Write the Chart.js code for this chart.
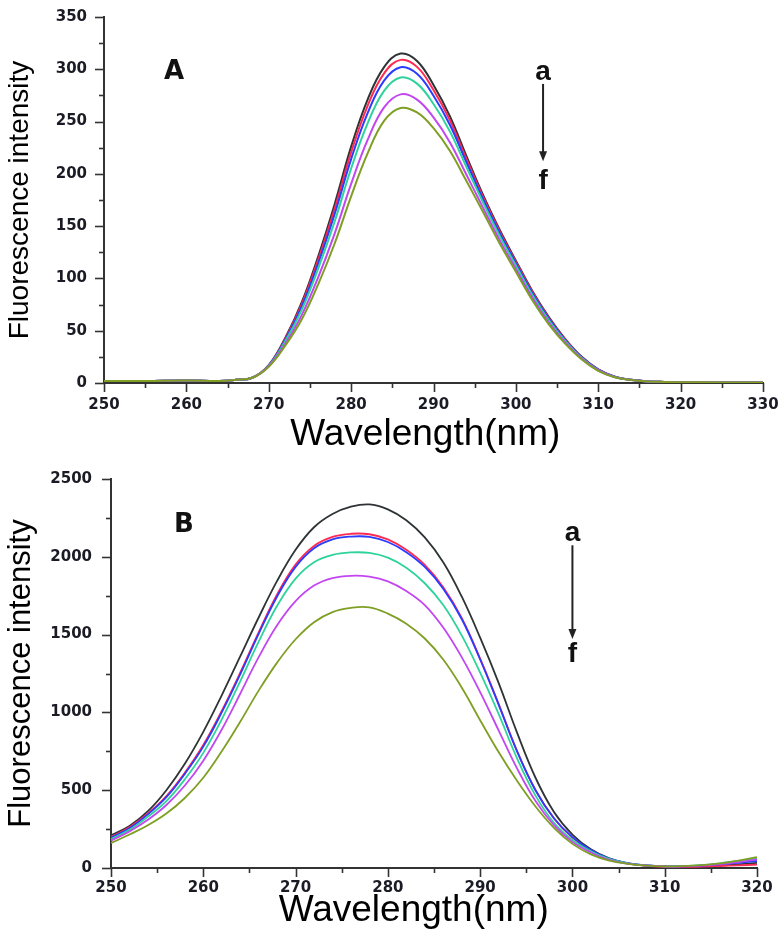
<!DOCTYPE html>
<html><head><meta charset="utf-8">
<script src="https://cdn.jsdelivr.net/npm/chart.js@4.4.0/dist/chart.umd.min.js"></script>
<style>
html,body{margin:0;padding:0;background:#fff;width:783px;height:937px;overflow:hidden;}
#wrapA{position:absolute;left:0;top:0;width:783px;height:470px;}
#wrapB{position:absolute;left:0;top:460px;width:783px;height:477px;}
</style></head><body>
<div id="wrapA"><canvas id="cA"></canvas></div>
<div id="wrapB"><canvas id="cB"></canvas></div>
<script>
// ---------- Panel A data ----------
const wavelengthA = [250,255,260,264,266,268,270,272,274,276,278,280,282,284,286,288,290,292,294,296,298,300,302,304,306,308,310,312,314,316,318,320,325,330];
const A_a = [2,2,2.5,2,3,5,17,43,77,121,171,226,271,302,315,308,285,255,217,180,147,117,88,63,42,25,13,6,3,1.5,1,0.8,0.5,0.5];
const A_b = [2,2,2.5,2,3,5,16.8,42.2,75.1,117.9,166.7,220.5,265.1,296.1,309,302.3,280.2,251.2,214.2,178.1,145.5,115.8,87,62.2,41.5,24.7,12.9,6,3,1.5,1,0.8,0.5,0.5];
const A_c = [2,2,2.5,2,3,5,16.7,41.2,73,114.3,161.6,214.1,258.1,289.2,302,295.7,274.7,246.7,211,176,143.7,114.4,85.8,61.3,40.8,24.4,12.7,5.9,3,1.5,1,0.8,0.5,0.5];
const A_d = [2,2,2.5,2,3,5,16.4,39.8,69.9,109.3,154.4,205.1,248.3,279.4,292.1,286.3,266.8,240.4,206.5,172.9,141.2,112.4,84.1,60,40,23.9,12.4,5.8,2.9,1.5,1,0.8,0.5,0.5];
const A_e = [2,2,2.5,2,3,5,16,37.5,64.9,101,142.8,190.4,232.4,263.5,276,271,254,230.1,199.1,167.9,137.1,109.1,81.4,57.8,38.5,23.1,12,5.6,2.9,1.5,1,0.8,0.5,0.5];
const A_f = [2,2,2.5,2,3,5,15.6,35.7,60.8,94.4,133.4,178.5,219.5,250.7,263,258.7,243.7,221.9,193.1,163.8,133.8,106.5,79.2,56.1,37.4,22.5,11.7,5.5,2.9,1.5,1,0.8,0.5,0.5];
const xTicksA = [250,260,270,280,290,300,310,320,330];
const yTicksA = [0,50,100,150,200,250,300,350];

// ---------- Panel B data ----------
const wavelengthB = [250,252,254,256,258,260,262,264,266,268,270,272,274,276,278,280,282,284,286,288,290,292,294,296,298,300,302,304,306,308,310,312,314,316,318,320];
const B_a = [210,270,365,500,670,875,1110,1360,1610,1845,2045,2190,2275,2322,2337,2305,2235,2125,1965,1745,1480,1190,870,580,360,215,120,62,30,16,10,8,10,15,23,33];
const B_b = [200,262,350,462,612,790,1010,1255,1515,1758,1950,2070,2128,2148,2145,2112,2045,1948,1805,1608,1345,1055,752,500,318,195,112,56,28,14,8,7,9,13,17,22];
const B_c = [195,255,345,455,605,780,1000,1245,1505,1745,1935,2055,2112,2130,2128,2095,2030,1935,1795,1600,1340,1050,750,500,320,198,115,60,32,17,11,11,16,24,33,45];
const B_d = [185,245,330,430,570,740,955,1200,1455,1685,1860,1965,2012,2028,2025,1995,1930,1830,1690,1495,1255,990,705,465,290,180,108,58,30,17,11,12,18,30,45,62];
const B_e = [175,235,310,405,530,690,890,1120,1355,1560,1715,1815,1863,1878,1872,1842,1780,1690,1545,1355,1130,885,640,430,275,168,100,52,28,16,10,10,15,25,38,55];
const B_f = [160,215,275,350,450,580,750,940,1140,1320,1470,1580,1645,1672,1675,1635,1570,1475,1340,1160,950,745,560,395,258,155,88,48,27,15,10,12,18,30,48,70];
const xTicksB = [250,260,270,280,290,300,310,320];
const yTicksB = [0,500,1000,1500,2000,2500];

const seriesNames = ['a','b','c','d','e','f'];
const seriesColors = ['#2e3336','#ff2a52','#2b3cff','#2ed39b','#c247f0','#7f9f24'];

function makeDatasets(xs, ys, width){
  return ys.map((arr,i)=>({
    label: seriesNames[i],
    data: arr.map((v,j)=>({x:xs[j], y:v})),
    borderColor: seriesColors[i],
    backgroundColor: seriesColors[i],
    borderWidth: width,
    pointRadius: 0,
    tension: 0.4,
    fill: false,
    order: 5 - i
  }));
}

const tickFont = {family:'DejaVu Sans', weight:'bold', size:15};
const tickColor = '#1b1b26';
const axisColor = '#333333';

const annotPlugin = {
  id: 'annot',
  afterDraw(chart){
    const o = chart.options.plugins.annot;
    const {ctx, scales:{x, y}} = chart;
    ctx.save();
    ctx.strokeStyle = axisColor;
    ctx.lineWidth = 1.6;
    const drawX = (v,len)=>{ const px = Math.round(x.getPixelForValue(v))+0.5; ctx.beginPath(); ctx.moveTo(px, y.bottom); ctx.lineTo(px, y.bottom+len); ctx.stroke(); };
    const drawY = (v,len)=>{ const py = Math.round(y.getPixelForValue(v))+0.5; ctx.beginPath(); ctx.moveTo(x.left, py); ctx.lineTo(x.left-len, py); ctx.stroke(); };
    o.xTicks.forEach((v,i)=>{ drawX(v,9); if(i<o.xTicks.length-1) drawX((v+o.xTicks[i+1])/2,5); });
    o.yTicks.forEach((v,i)=>{ drawY(v,9); if(i<o.yTicks.length-1) drawY((v+o.yTicks[i+1])/2,5); });
    ctx.fillStyle = '#111';
    ctx.textAlign = 'center';
    ctx.textBaseline = 'middle';
    o.texts.forEach(t=>{
      ctx.font = t.font;
      ctx.fillText(t.text, x.getPixelForValue(t.x), y.getPixelForValue(t.y));
    });
    // x-axis title
    ctx.fillStyle = '#000';
    ctx.font = '37px "Liberation Sans"';
    ctx.fillText('Wavelength(nm)', x.getPixelForValue(o.xTitle.x), y.bottom + o.xTitle.dy);
    // arrow
    const ax = x.getPixelForValue(o.arrow.x);
    const y1 = y.getPixelForValue(o.arrow.y1);
    const y2 = y.getPixelForValue(o.arrow.y2);
    ctx.strokeStyle = '#222';
    ctx.lineWidth = 2;
    ctx.beginPath(); ctx.moveTo(ax, y1); ctx.lineTo(ax, y2-8); ctx.stroke();
    ctx.fillStyle = '#222';
    ctx.beginPath(); ctx.moveTo(ax, y2); ctx.lineTo(ax-4, y2-10); ctx.lineTo(ax+4, y2-10); ctx.closePath(); ctx.fill();
    ctx.restore();
  }
};

function makeChart(id, cfg){
  return new Chart(document.getElementById(id), {
    type: 'line',
    data: { datasets: makeDatasets(cfg.xs, cfg.ys, cfg.lineWidth) },
    options: {
      responsive: true,
      maintainAspectRatio: false,
      animation: false,
      events: [],
      layout: { padding: cfg.padding },
      plugins: {
        legend: {display:false},
        tooltip: {enabled:false},
        annot: cfg.annot
      },
      scales: {
        x: {
          type: 'linear', min: cfg.xTicks[0], max: cfg.xTicks[cfg.xTicks.length-1],
          afterBuildTicks: s => { s.ticks = cfg.xTicks.map(v=>({value:v})); },
          afterFit: s => { s.height = cfg.xAxisHeight; },
          ticks: { font: tickFont, color: tickColor, padding: cfg.xTickPad, maxRotation:0, autoSkip:false, callback: v => String(v) },
          grid: { display: true, drawOnChartArea: false, drawTicks: true, tickLength: 9, color: 'rgba(0,0,0,0)' },
          border: { display: true, color: axisColor, width: 2 },
          title: { display: false, text: 'Wavelength(nm)' }
        },
        y: {
          type: 'linear', min: cfg.yTicks[0], max: cfg.yTicks[cfg.yTicks.length-1],
          afterBuildTicks: s => { s.ticks = cfg.yTicks.map(v=>({value:v})); },
          afterFit: s => { s.width = cfg.yAxisWidth; },
          ticks: { font: tickFont, color: tickColor, padding: cfg.yTickPad, callback: v => String(v) },
          grid: { display: true, drawOnChartArea: false, drawTicks: true, tickLength: 9, color: 'rgba(0,0,0,0)' },
          border: { display: true, color: axisColor, width: 2 },
          title: { display: true, text: 'Fluorescence intensity', color: '#000',
                   font: {family:'Liberation Sans', size: cfg.yTitleSize, lineHeight: 1}, padding: {top: 6, bottom: 0} }
        }
      }
    },
    plugins: [annotPlugin]
  });
}

makeChart('cA', {
  xs: wavelengthA, ys: [A_a,A_b,A_c,A_d,A_e,A_f], lineWidth: 2,
  xTicks: xTicksA, yTicks: yTicksA,
  padding: {top:12, right:20, left:0, bottom:0},
  xAxisHeight: 87, yAxisWidth: 104, xTickPad: 4, yTickPad: 8, yTitleSize: 28,
  annot: {
    xTicks: xTicksA, yTicks: yTicksA,
    texts: [
      {text:'A', x:258.5, y:297, font:'bold 26px "DejaVu Sans"'},
      {text:'a', x:303.3, y:297, font:'bold 28px "Liberation Sans"'},
      {text:'f', x:303.3, y:193, font:'bold 28px "Liberation Sans"'}
    ],
    xTitle: {x:289, dy:52},
    arrow: {x:303.3, y1:286, y2:212}
  }
});

makeChart('cB', {
  xs: wavelengthB, ys: [B_a,B_b,B_c,B_d,B_e,B_f], lineWidth: 1.8,
  xTicks: xTicksB, yTicks: yTicksB,
  padding: {top:9, right:26, left:0, bottom:0},
  xAxisHeight: 69, yAxisWidth: 111, xTickPad: 2, yTickPad: 10, yTitleSize: 31,
  annot: {
    xTicks: xTicksB, yTicks: yTicksB,
    texts: [
      {text:'B', x:257.9, y:2205, font:'bold 26px "DejaVu Sans"'},
      {text:'a', x:300, y:2149, font:'bold 28px "Liberation Sans"'},
      {text:'f', x:300, y:1372, font:'bold 28px "Liberation Sans"'}
    ],
    xTitle: {x:282.8, dy:43},
    arrow: {x:300, y1:2074, y2:1472}
  }
});
</script>
</body></html>
